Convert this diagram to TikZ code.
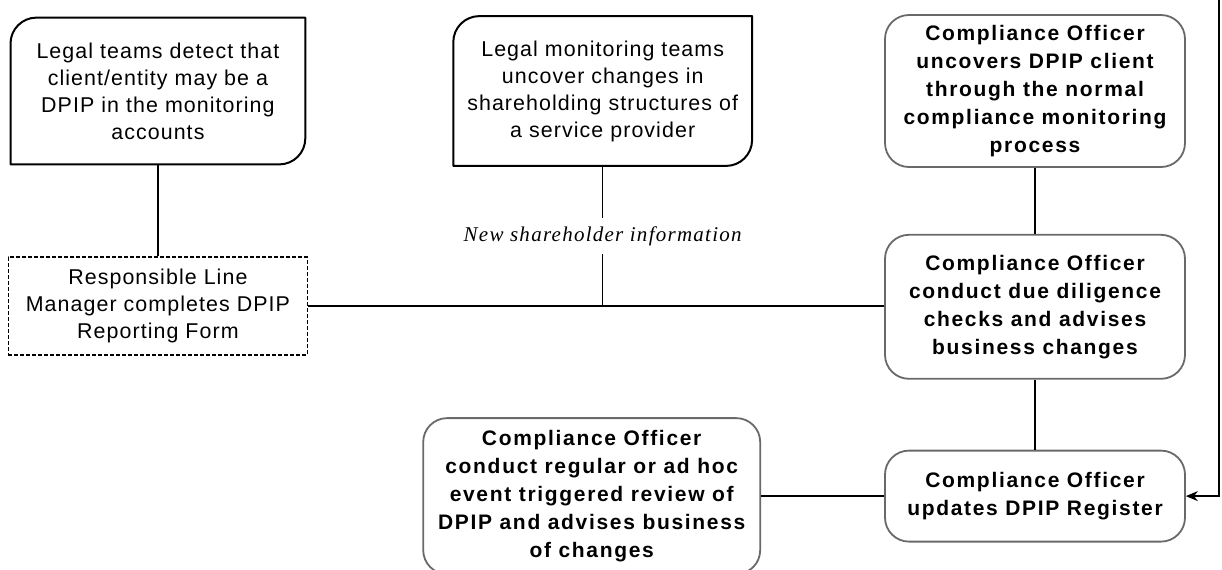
\documentclass[tikz,border=0pt]{standalone}
\usepackage{fontspec}
\setmainfont{Liberation Sans}[LetterSpace=5]
\newfontfamily\cofont{Liberation Sans}[LetterSpace=8]
\newfontfamily\notefont{Liberation Serif}[LetterSpace=6]
\usepackage{tikz}
\usetikzlibrary{
  arrows.meta,
  positioning
}
\definecolor{coedge}{RGB}{105,105,105}
% frame with two rounded corners (top left, bottom right)
\newcommand{\lglframe}[1]{%
  \draw[lglframe] (#1.south west) -- ([yshift=-13pt]#1.north west)
    arc[start angle=180, end angle=90, radius=13pt] -- (#1.north east)
    -- ([yshift=13pt]#1.south east)
    arc[start angle=0, end angle=-90, radius=13pt] -- cycle;}

\begin{document}
\begin{tikzpicture}[
  x=1pt, y=1pt,
  lglbox/.style={minimum width=147pt, minimum height=73pt, align=center,
                 inner sep=2pt, font=\fontsize{10.7}{13.5}\selectfont},
  lglframe/.style={line width=1pt, line join=round},
  formbox/.style={draw, line width=0.6pt, dash pattern=on 2pt off 1pt,
                  minimum width=149.5pt, minimum height=49pt, align=center,
                  inner sep=2pt, font=\fontsize{10.7}{13.5}\selectfont},
  cobox/.style={draw=coedge, line width=0.9pt, rounded corners=12pt,
                minimum width=150pt, align=center, inner sep=2pt,
                font=\cofont\bfseries\fontsize{10.5}{14}\selectfont},
  link/.style={line width=0.7pt},
  arr/.style={link, -{Stealth[length=6pt, width=5pt]}},
  note/.style={fill=white, inner xsep=2pt, inner ysep=4pt,
               font=\notefont\itshape\fontsize{10.5}{12}\selectfont},
  node distance=33pt and 66pt
]
\useasboundingbox (0,0) rectangle (611,-284.5);

% -- Right column: compliance officer --
\node[cobox, minimum height=76pt] at (517.5,-45.5) (uncover)
  {Compliance Officer\\uncovers DPIP client\\through the normal\\compliance monitoring\\process};
\node[cobox, minimum height=72pt, below=33pt of uncover] (diligence)
  {Compliance Officer\\conduct due diligence\\checks and advises\\business changes};
\node[cobox, minimum height=45.5pt, below=35pt of diligence] (register)
  {Compliance Officer\\updates DPIP Register};
\node[cobox, minimum width=168.5pt, minimum height=78pt, left=61.5pt of register] (review)
  {Compliance Officer\\conduct regular or ad hoc\\event triggered review of\\DPIP and advises business\\of changes};

% -- Legal teams --
\node[lglbox, minimum width=149pt, minimum height=74.5pt, left=66pt of uncover] (shares)
  {Legal monitoring teams\\uncover changes in\\shareholding structures of\\a service provider};
\node[lglbox, left=74pt of shares] (detect)
  {Legal teams detect that\\client/entity may be a\\DPIP in the monitoring\\accounts};
\lglframe{detect}
\lglframe{shares}

% -- Reporting form --
\node[formbox, below=46pt of detect] (form)
  {Responsible Line\\Manager completes DPIP\\Reporting Form};

% -- Connectors --
\draw[link] (detect) -- (form);
\draw[link] (form.east) -- (form.east -| diligence.west);
\draw[link] (shares) -- node[note] {New shareholder information} (shares.south |- form.east);
\draw[link] (uncover) -- (diligence);
\draw[link] (diligence) -- (register);
\draw[link] (review) -- (register);
\coordinate (feed) at (609.5,0);
\draw[arr] (feed) |- (register.east);

\end{tikzpicture}
\end{document}
